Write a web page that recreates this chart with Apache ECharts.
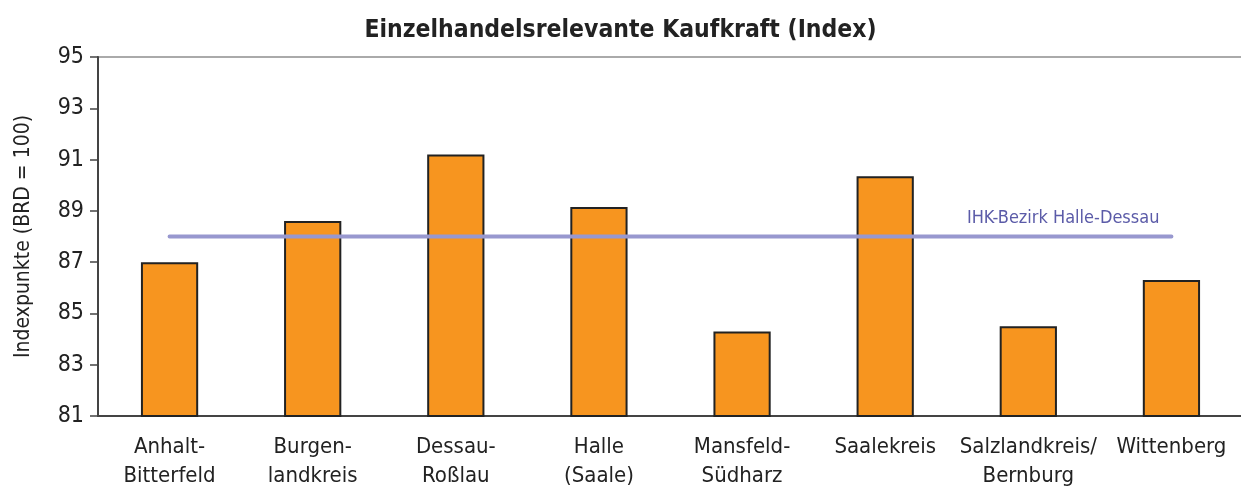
<!DOCTYPE html>
<html>
<head>
<meta charset="utf-8">
<script src="https://cdn.jsdelivr.net/npm/echarts@6/dist/echarts.min.js"></script>
<style>
  html, body { margin: 0; padding: 0; background: #fff; }
  #main { width: 1241px; height: 488px; }
</style>
</head>
<body>
<div id="main"></div>
<script>
// Landkreise / kreisfreie Städte
var kreise = ['Anhalt-\nBitterfeld', 'Burgen-\nlandkreis', 'Dessau-\nRoßlau', 'Halle\n(Saale)',
  'Mansfeld-\nSüdharz', 'Saalekreis', 'Salzlandkreis/\nBernburg', 'Wittenberg'];
// Kaufkraftindex je Kreis
var kaufkraft = [87.0, 88.6, 91.2, 89.15, 84.3, 90.35, 84.5, 86.3];
// Durchschnitt IHK-Bezirk
var bezirk = [88, 88, 88, 88, 88, 88, 88, 88];
var yTicks = { min: 81, max: 95, step: 2 };

var font = "'DejaVu Sans Condensed', 'DejaVu Sans', sans-serif";
var chart = echarts.init(document.getElementById('main'));

var option = {
  animation: false,
  textStyle: { fontFamily: font },
  title: {
    text: 'Einzelhandelsrelevante Kaufkraft (Index)',
    left: 'center',
    top: 13,
    textStyle: { fontFamily: font, fontSize: 24.5, fontWeight: 'bold', color: '#222' }
  },
  grid: {
    left: 98, right: -2, top: 57, bottom: 72,
    outerBoundsMode: 'none',
    show: true, borderColor: '#aaa', borderWidth: 2
  },
  xAxis: {
    type: 'category',
    data: kreise,
    axisLine: { lineStyle: { color: '#444', width: 2 } },
    axisTick: { length: 8, lineStyle: { color: '#444', width: 1.5 } },
    axisLabel: { color: '#222', fontSize: 22, lineHeight: 29, margin: 17, interval: 0 }
  },
  yAxis: {
    type: 'value',
    min: yTicks.min,
    max: yTicks.max,
    interval: yTicks.step,
    name: 'Indexpunkte (BRD = 100)',
    nameLocation: 'middle',
    nameGap: 64,
    nameTextStyle: { fontSize: 21, color: '#222' },
    axisLine: { show: true, lineStyle: { color: '#444', width: 2 } },
    axisTick: { show: true, length: 8, lineStyle: { color: '#444', width: 1.5 } },
    axisLabel: { color: '#222', fontSize: 23, margin: 14 },
    splitLine: { show: false }
  },
  series: [
    {
      name: 'Kaufkraft',
      type: 'bar',
      data: kaufkraft,
      barWidth: '40%',
      itemStyle: { color: '#f7951f', borderColor: '#222', borderWidth: 2 }
    },
    {
      name: 'IHK-Bezirk Halle-Dessau',
      type: 'line',
      data: bezirk.map(function (v, i) {
        if (i === bezirk.length - 1) {
          return {
            value: v,
            label: {
              show: true,
              formatter: 'IHK-Bezirk Halle-Dessau',
              position: 'top',
              align: 'right',
              offset: [-12, -4],
              fontSize: 18,
              color: '#5b5ba8'
            }
          };
        }
        return v;
      }),
      symbol: 'circle',
      symbolSize: 0,
      showSymbol: true,
      lineStyle: { color: '#9898cf', width: 4, cap: 'round' },
      z: 5
    }
  ]
};
chart.setOption(option);
</script>
</body>
</html>
